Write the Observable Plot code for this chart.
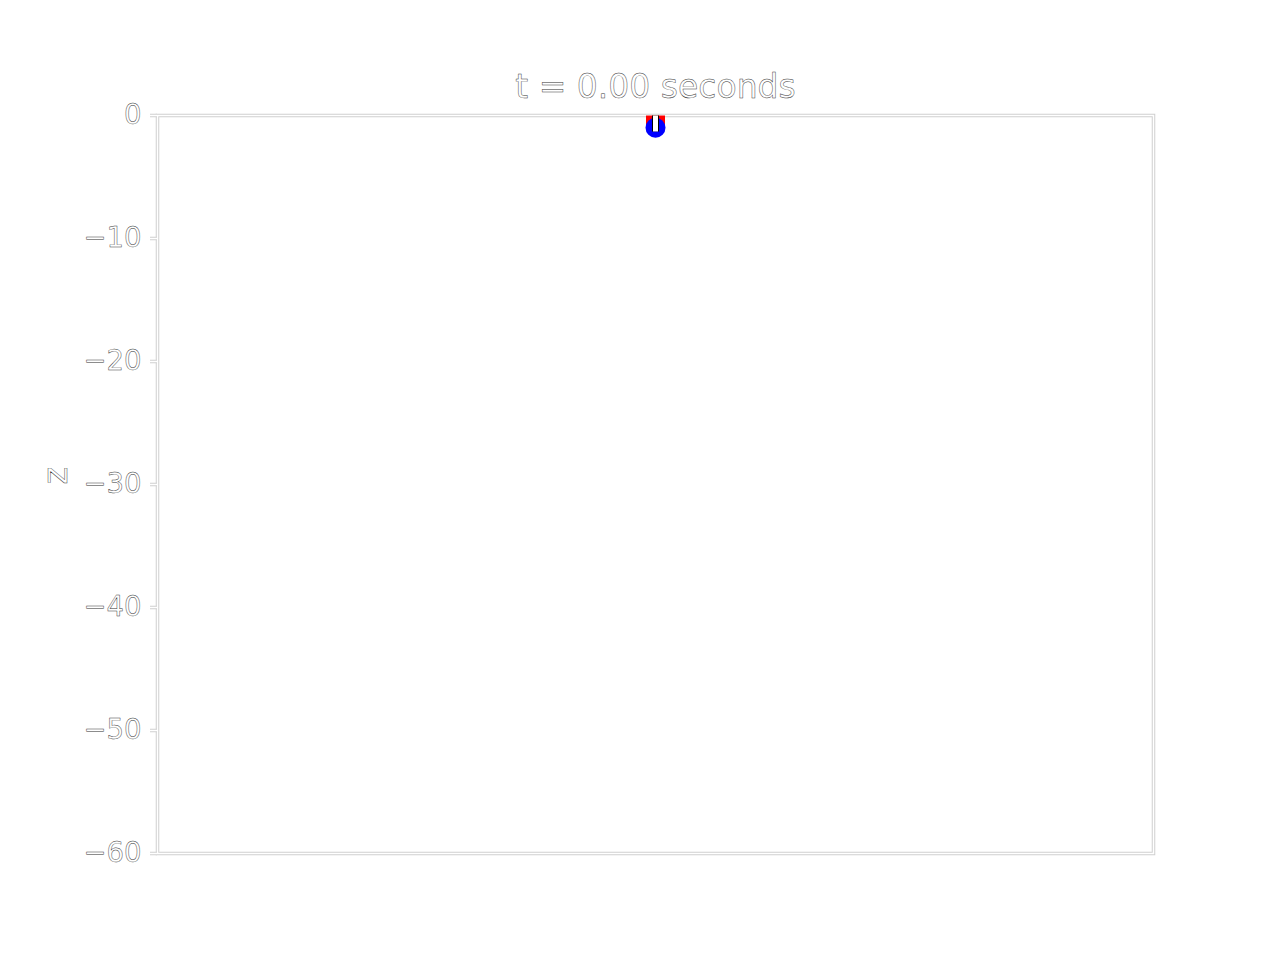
<!DOCTYPE html>
<html>
<head>
<meta charset="utf-8">
<script src="https://cdn.jsdelivr.net/npm/d3@7"></script>
<script src="https://cdn.jsdelivr.net/npm/@observablehq/plot@0.6"></script>
<style>
  html, body { margin: 0; padding: 0; background: white; }
  svg { display: block; }
  svg text { paint-order: normal !important; }
</style>
</head>
<body>
<div id="chart"></div>
<script>
// Data
const timeSeconds = 0.00;
const anchor = [{x: 0, z: 0}];
const mass = [{x: 0, z: -1}];
const rodEnd = [{x: 0, z: -1.3}];
const yTicks = [0, -10, -20, -30, -40, -50, -60];
const yLabel = "z";
const xDomain = [-1, 1];
const yDomain = [-60, 0];

const fmt = d => (d < 0 ? "\u2212" + Math.abs(d) : String(d));
const outlineText = {fill: "white", stroke: "#333", strokeWidth: 0.45, fontFamily: "DejaVu Sans", lineAnchor: "middle", paintOrder: "normal"};

const spring = anchor.map((a, i) => ({x1: a.x, y1: a.z, x2: mass[i].x, y2: mass[i].z}));
const rod = anchor.map((a, i) => ({x1: a.x, y1: a.z, x2: rodEnd[i].x, y2: rodEnd[i].z}));

const plot = Plot.plot({
  width: 1280,
  height: 960,
  marginLeft: 157,
  marginRight: 127,
  marginTop: 115,
  marginBottom: 107,
  style: {background: "white", overflow: "visible"},
  x: {domain: xDomain, axis: null},
  y: {domain: yDomain, axis: null},
  marks: [
    // frame (double line)
    Plot.frame({stroke: "#cfcfcf", strokeWidth: 3.5}),
    Plot.frame({stroke: "white", strokeWidth: 1.5}),
    // y ticks (double line)
    Plot.axisY(yTicks, {tickSize: 7, text: null, stroke: "#cfcfcf", strokeWidth: 3.5, label: null}),
    Plot.axisY(yTicks, {tickSize: 7, text: null, stroke: "white", strokeWidth: 1.5, label: null}),
    // tick labels
    Plot.text(yTicks, {
      y: d => d, text: fmt, frameAnchor: "left", dx: -16, textAnchor: "end",
      fontSize: 27.5, ...outlineText
    }),
    // y label
    Plot.text([yLabel], {
      text: d => d, frameAnchor: "left", dx: -101, rotate: -90,
      fontSize: 34, ...outlineText
    }),
    // title
    Plot.text([`t = ${timeSeconds.toFixed(2)} seconds`], {
      text: d => d, frameAnchor: "top", dy: -28, fontSize: 33, ...outlineText
    }),
    // spring (red)
    Plot.link(spring, {x1: "x1", y1: "y1", x2: "x2", y2: "y2", stroke: "red", strokeWidth: 19, strokeLinecap: "butt"}),
    // mass (blue)
    Plot.dot(mass, {x: "x", y: "z", r: 10, fill: "blue", stroke: "none"}),
    // rod (white with dark outline)
    Plot.link(rod, {x1: "x1", y1: "y1", x2: "x2", y2: "y2", stroke: "black", strokeWidth: 7, strokeLinecap: "butt"}),
    Plot.link(rod, {x1: "x1", y1: "y1", x2: "x2", y2: "y2", stroke: "white", strokeWidth: 5, strokeLinecap: "butt"})
  ]
});
document.getElementById("chart").appendChild(plot);
</script>
</body>
</html>
